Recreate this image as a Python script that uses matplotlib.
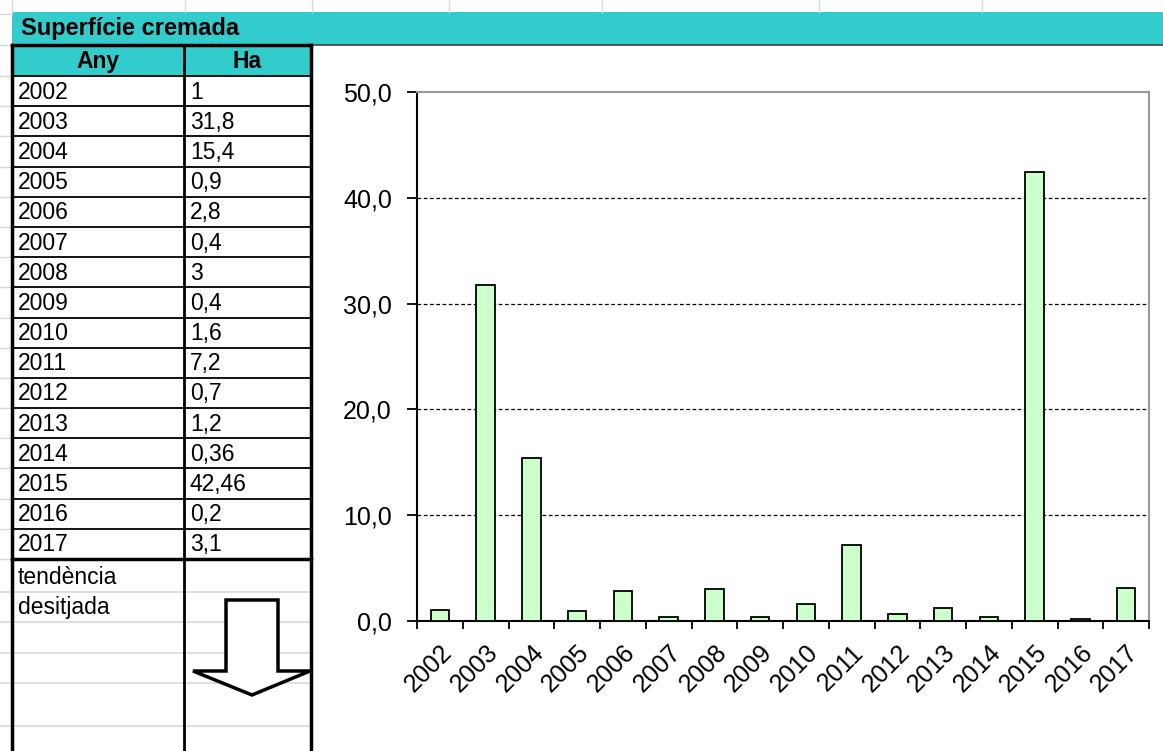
import matplotlib
matplotlib.use("Agg")
import matplotlib.pyplot as plt
from matplotlib.patches import Rectangle, Polygon

plt.rcParams['font.family'] = ['Liberation Sans', 'DejaVu Sans']

title = "Superfície cremada"
col_names = ["Any", "Ha"]
years = ["2002", "2003", "2004", "2005", "2006", "2007", "2008", "2009",
         "2010", "2011", "2012", "2013", "2014", "2015", "2016", "2017"]
ha = [1, 31.8, 15.4, 0.9, 2.8, 0.4, 3, 0.4, 1.6, 7.2, 0.7, 1.2, 0.36, 42.46, 0.2, 3.1]
trend_text = ["tendència", "desitjada"]
y_ticks = [0, 10, 20, 30, 40, 50]


def comma(v, fmt="{:g}"):
    return fmt.format(v).replace(".", ",")


W, H = 1163, 751
fig = plt.figure(figsize=(W / 100, H / 100), dpi=100)

# sheet layer in pixel units
bg = fig.add_axes([0, 0, 1, 1])
bg.set_xlim(0, W)
bg.set_ylim(H, 0)
bg.axis("off")

teal = "#33CCCC"
grid_gray = "#d9d9d9"

# spreadsheet gridlines peeking through
for x in [12, 185, 312, 449, 602, 819, 982]:
    bg.plot([x, x], [0, 12], color=grid_gray, lw=1)
for y in [14, 45, 76]:
    bg.plot([0, 12], [y, y], color=grid_gray, lw=1)

# title band
bg.add_patch(Rectangle((12, 12), W - 12, 33, facecolor=teal, edgecolor="none"))
bg.plot([12, W], [45, 45], color="#404040", lw=1.2)
bg.text(21, 29, title, fontsize=17, fontweight="bold", va="center", ha="left")

# table
left, mid, right = 12, 184, 311
top, head_bot = 45, 76
row_h = 30.19
bg.add_patch(Rectangle((left, top), right - left, head_bot - top,
                       facecolor=teal, edgecolor="none"))
bg.text((left + mid) / 2, (top + head_bot) / 2 + 1, col_names[0], fontsize=16.5,
        fontweight="bold", ha="center", va="center")
bg.text((mid + right) / 2, (top + head_bot) / 2 + 1, col_names[1], fontsize=16.5,
        fontweight="bold", ha="center", va="center")

for i, (yr, v) in enumerate(zip(years, ha)):
    y0 = head_bot + i * row_h
    yc = y0 + row_h / 2 + 1
    bg.text(left + 6, yc, yr, fontsize=16.5, ha="left", va="center")
    bg.text(mid + 6, yc, comma(v), fontsize=16.5, ha="left", va="center")
    bg.plot([0, left], [y0 + row_h, y0 + row_h], color=grid_gray, lw=1)
    bg.plot([left, right], [y0, y0], color="black", lw=1.3)

table_bot = head_bot + len(years) * row_h
bg.plot([left, right], [table_bot, table_bot], color="black", lw=2.5)

# gridlines inside the merged trend cell
for y in [592, 622, 653, 683, 726]:
    bg.plot([0, right], [y, y], color=grid_gray, lw=1.2, zorder=1)

for i, t in enumerate(trend_text):
    bg.text(left + 6, table_bot + 18 + i * 30, t, fontsize=16.5, ha="left", va="center")

# borders
bg.plot([left, right], [top, top], color="black", lw=2.5, zorder=3)
bg.plot([left, left], [top, H], color="black", lw=2.5, zorder=3)
bg.plot([right, right], [top, H], color="black", lw=2.5, zorder=3)
bg.plot([mid, mid], [top, H], color="black", lw=2.0, zorder=3)

# downward block arrow
arrow = Polygon([(226, 600), (278, 600), (278, 671), (310, 671), (252, 695),
                 (193, 671), (226, 671)], closed=True,
                facecolor="white", edgecolor="black", lw=2.5, zorder=4,
                joinstyle="miter")
bg.add_patch(arrow)

# bar chart
x0, x1, yb, yt = 417, 1149, 621, 92
ax = fig.add_axes([x0 / W, 1 - yb / H, (x1 - x0) / W, (yb - yt) / H])
ax.set_zorder(5)
pos = list(range(len(years)))
ax.bar(pos, ha, width=0.4, color="#CCFFCC", edgecolor="black", lw=1.3, zorder=3)
ax.set_xlim(-0.5, len(years) - 0.5)
ax.set_ylim(0, 50)

for v in y_ticks[1:-1]:
    ax.axhline(v, color="black", lw=0.9, ls=(0, (3, 2)), zorder=1)

ax.set_yticks(y_ticks)
ax.set_yticklabels([comma(v, "{:.1f}") for v in y_ticks], fontsize=18)
ax.tick_params(axis="y", direction="out", length=7, width=1.3, pad=11)

ax.set_xticks(pos)
ax.set_xticklabels(years, fontsize=18, rotation=45, ha="right",
                   rotation_mode="anchor")
ax.tick_params(axis="x", which="major", length=0, pad=14)
ax.set_xticks([p - 0.5 for p in pos] + [len(years) - 0.5], minor=True)
ax.tick_params(axis="x", which="minor", direction="out", length=6, width=1.3)

for s in ["left", "bottom"]:
    ax.spines[s].set_color("black")
    ax.spines[s].set_linewidth(1.5)
for s in ["top", "right"]:
    ax.spines[s].set_color("#999999")
    ax.spines[s].set_linewidth(1.5)

fig.savefig("out.png", dpi=100)
